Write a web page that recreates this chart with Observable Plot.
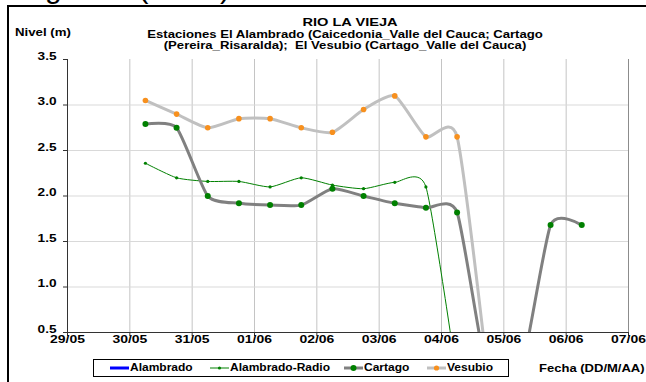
<!DOCTYPE html>
<html><head><meta charset="utf-8">
<script src="https://cdn.jsdelivr.net/npm/d3@7"></script>
<script src="https://cdn.jsdelivr.net/npm/@observablehq/plot@0.6"></script>
<style>
html,body{margin:0;padding:0;background:#fff;width:646px;height:382px;overflow:hidden;position:relative;font-family:Arial,"Liberation Sans",sans-serif;}
.t{position:absolute;white-space:nowrap;font-weight:bold;color:#000;}
#frame{position:absolute;left:7px;top:5px;width:700px;height:400px;border-left:2px solid #000;border-top:2px solid #000;}
#chart{position:absolute;left:0;top:0;}
#legend{position:absolute;left:93px;top:359px;width:414px;height:16px;border:1px solid #000;background:#fff;}
</style></head><body>
<div class="t" style="left:20px;top:-27.4px;font-size:30px;line-height:30px;font-weight:normal;">Figura 3 (Cont.)</div>
<div id="frame"></div>
<div id="chart"></div>
<div class="t" style="left:350px;top:17px;font-size:11.5px;line-height:10px;transform:translateX(-50%) scaleX(1.27);">RIO LA VIEJA</div>
<div class="t" style="left:345px;top:28.5px;font-size:10.5px;line-height:10px;transform:translateX(-50%) scaleX(1.25);">Estaciones El Alambrado (Caicedonia_Valle del Cauca; Cartago</div>
<div class="t" style="left:345px;top:39.5px;font-size:10.5px;line-height:10px;transform:translateX(-50%) scaleX(1.25);">(Pereira_Risaralda);&nbsp; El Vesubio (Cartago_Valle del Cauca)</div>
<div class="t" style="left:15px;top:27px;font-size:10.5px;line-height:10.5px;transform-origin:0 50%;transform:scaleX(1.26);">Nivel (m)</div>
<div id="legend"></div>
<div class="t" style="left:539px;top:363px;font-size:10.5px;line-height:10.5px;transform-origin:0 50%;transform:scaleX(1.24);">Fecha (DD/M/AA)</div>
<script>
// Sampling times (every 12 h, 06:00 and 18:00)
const times = ["2010-05-30T06:00Z","2010-05-30T18:00Z","2010-05-31T06:00Z","2010-05-31T18:00Z",
  "2010-06-01T06:00Z","2010-06-01T18:00Z","2010-06-02T06:00Z","2010-06-02T18:00Z",
  "2010-06-03T06:00Z","2010-06-03T18:00Z","2010-06-04T06:00Z","2010-06-04T18:00Z",
  "2010-06-05T06:00Z","2010-06-05T18:00Z","2010-06-06T06:00Z"];
const alambrado = [];
const alambradoRadio = [2.36, 2.2, 2.16, 2.16, 2.1, 2.2, 2.12, 2.08, 2.15, 2.1, 0];
const cartago = [2.79, 2.75, 2.0, 1.92, 1.9, 1.9, 2.08, 2.0, 1.92, 1.87, 1.82, 0, 0, 1.68, 1.68];
const vesubio = [3.05, 2.9, 2.75, 2.85, 2.85, 2.75, 2.7, 2.95, 3.1, 2.65, 2.65, 0];
const xTickDates = ["2010-05-29","2010-05-30","2010-05-31","2010-06-01","2010-06-02",
  "2010-06-03","2010-06-04","2010-06-05","2010-06-06","2010-06-07"];
const yTicks = [0.5, 1.0, 1.5, 2.0, 2.5, 3.0, 3.5];
const seriesNames = ["Alambrado","Alambrado-Radio","Cartago","Vesubio"];

const rows = vals => vals.map((v,i)=>({t:new Date(times[i]), v}));
const xt = xTickDates.map(d=>new Date(d+"T00:00Z"));
const x0 = xt[0], x1 = xt[xt.length-1];

const curve = {curve:"cardinal", tension:0.4};
const svg = Plot.plot({
  width:646, height:382,
  marginLeft:67, marginRight:18, marginTop:59, marginBottom:50,
  style:{fontFamily:"Arial, 'Liberation Sans', sans-serif", fontSize:"10.5px", fontWeight:"bold", color:"#000", background:"transparent", overflow:"visible"},
  x:{type:"utc", domain:[x0,x1]},
  y:{domain:[0.5,3.5]},
  marks:[
    Plot.gridX(xt.slice(1,-1), {stroke:"#c4c4c4", strokeOpacity:1}),
    Plot.gridY(yTicks.slice(1,-1), {stroke:"#d9d9d9", strokeOpacity:1}),
    Plot.ruleX([x1], {stroke:"#8c8c8c"}),
    Plot.line(rows(alambrado), {x:"t", y:"v", stroke:"#0000ff", strokeWidth:3, clip:true, ...curve}),
    Plot.line(rows(alambradoRadio), {x:"t", y:"v", stroke:"#008000", strokeWidth:1, clip:true, ...curve}),
    Plot.dot(rows(alambradoRadio), {x:"t", y:"v", r:1.6, fill:"#008000", clip:true}),
    Plot.line(rows(cartago), {x:"t", y:"v", stroke:"#808080", strokeWidth:3, clip:true, ...curve}),
    Plot.dot(rows(cartago), {x:"t", y:"v", r:3, fill:"#008000", clip:true}),
    Plot.line(rows(vesubio), {x:"t", y:"v", stroke:"#c0c0c0", strokeWidth:3, clip:true, ...curve}),
    Plot.dot(rows(vesubio), {x:"t", y:"v", r:2.8, fill:"#f7901e", clip:true}),
    Plot.ruleX([x0], {stroke:"#333"}),
    Plot.ruleY([0.5], {stroke:"#333"}),
    Plot.axisX(xt, {tickFormat:d3.utcFormat("%d/%m"), tickSize:4, tickPadding:6, label:null, stroke:"#333"}),
    Plot.axisY(yTicks, {tickFormat:d=>d.toFixed(1), tickSize:4, tickPadding:7, label:null, stroke:"#333"})
  ]
});
function stretch(sel, s){
  sel.each(function(){
    const t = this.getAttribute("transform")||"";
    const x = +this.getAttribute("x")||0, y = +this.getAttribute("y")||0;
    this.removeAttribute("x"); this.removeAttribute("y");
    this.setAttribute("transform", `${t} translate(${x},${y}) scale(${s},1)`);
  });
}
stretch(d3.select(svg).selectAll("g[aria-label='x-axis tick label'] text"), 1.33);
stretch(d3.select(svg).selectAll("g[aria-label='y-axis tick label'] text"), 1.3);
document.getElementById("chart").appendChild(svg);

// Legend
const legendItems = [
  {name:seriesNames[0], x:16, stroke:"#0000ff", w:3, dot:null, r:0},
  {name:seriesNames[1], x:116, stroke:"#008000", w:1, dot:"#008000", r:1.6},
  {name:seriesNames[2], x:250, stroke:"#808080", w:3, dot:"#008000", r:3},
  {name:seriesNames[3], x:333, stroke:"#c0c0c0", w:3, dot:"#f7901e", r:2.6}
];
const lg = d3.select("#legend");
const ls = lg.append("svg").attr("width",414).attr("height",16).style("position","absolute").style("left","0").style("top","0");
legendItems.forEach(it=>{
  ls.append("line").attr("x1",it.x).attr("x2",it.x+19).attr("y1",8).attr("y2",8).attr("stroke",it.stroke).attr("stroke-width",it.w);
  if(it.dot) ls.append("circle").attr("cx",it.x+9.5).attr("cy",8).attr("r",it.r).attr("fill",it.dot);
  lg.append("div").attr("class","t").style("left",(it.x+20)+"px").style("top","3px")
    .style("font-size","10px").style("line-height","10px").style("transform-origin","0 50%").style("transform","scaleX(1.2)").text(it.name);
});
</script>
</body></html>
